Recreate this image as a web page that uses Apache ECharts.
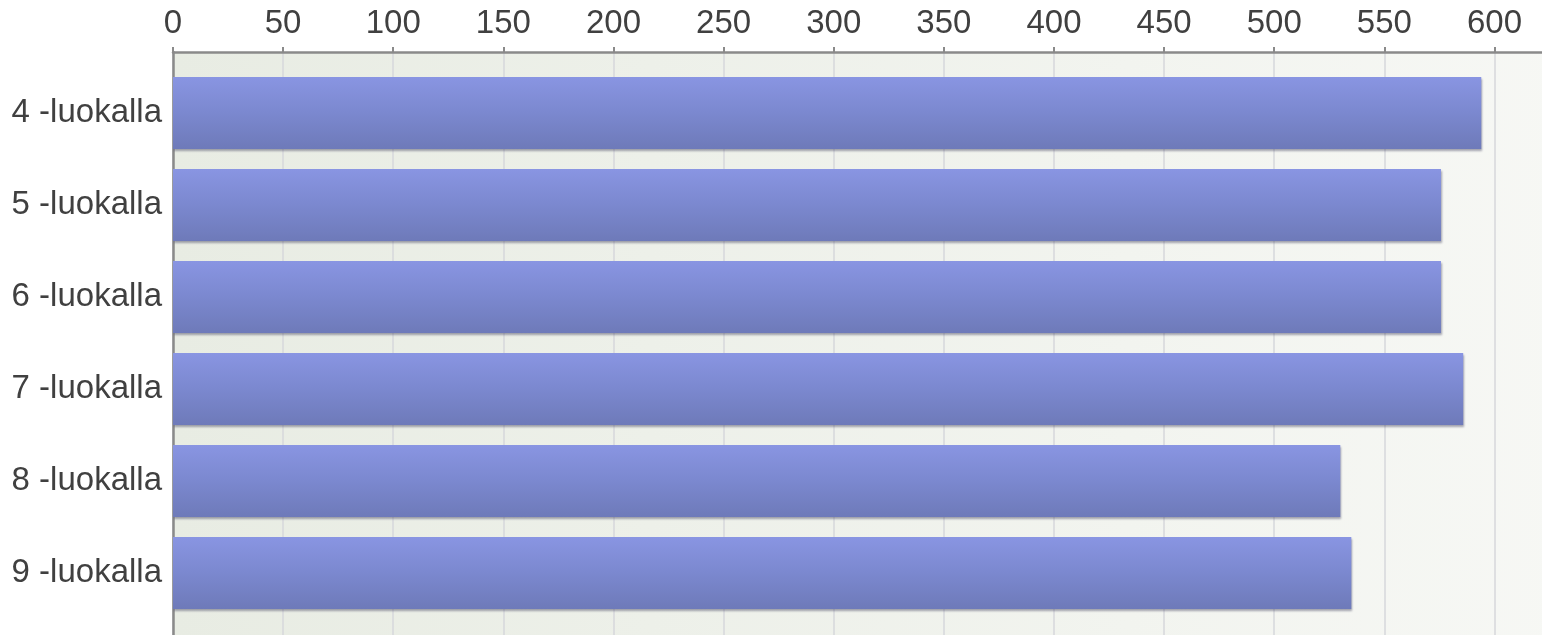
<!DOCTYPE html>
<html>
<head>
<meta charset="utf-8">
<script src="https://cdn.jsdelivr.net/npm/echarts@6/dist/echarts.min.js"></script>
<style>html,body{margin:0;padding:0;background:#fff;}#c{width:1542px;height:635px;}</style>
</head>
<body>
<div id="c"></div>
<script>
const categories = ['4 -luokalla', '5 -luokalla', '6 -luokalla', '7 -luokalla', '8 -luokalla', '9 -luokalla'];
const values = [594, 575.7, 575.7, 585.8, 530, 535];
const xTicks = [0, 50, 100, 150, 200, 250, 300, 350, 400, 450, 500, 550, 600];

const chart = echarts.init(document.getElementById('c'));
const font = '"Liberation Sans", Arial, sans-serif';
chart.setOption({
  animation: false,
  grid: [
    {
      left: 173, right: -62.6, top: 52, bottom: 0,
      outerBoundsMode: 'none', containLabel: false,
      show: true, borderWidth: 0,
      backgroundColor: {
        type: 'linear', x: 0, y: 0, x2: 1, y2: 0,
        colorStops: [{offset: 0, color: '#e8ece3'}, {offset: 1, color: '#f7f8f5'}]
      }
    },
    {left: 173, right: -62.6, top: 67, bottom: 16, outerBoundsMode: 'none', containLabel: false}
  ],
  xAxis: [
    {
      gridIndex: 0, type: 'value', position: 'top', min: 0, max: 650, interval: 50,
      axisLine: {show: true, onZero: false, lineStyle: {color: '#8a8a8a', width: 2.5}},
      axisTick: {show: true, length: 5, lineStyle: {color: '#8a8a8a', width: 2}},
      axisLabel: {color: '#404040', fontSize: 33, fontFamily: font, margin: 12,
        formatter: v => xTicks.includes(v) ? String(v) : ''},
      splitLine: {show: true, lineStyle: {color: '#d6d7db', width: 1.5}}
    },
    {gridIndex: 1, type: 'value', min: 0, max: 650, show: false}
  ],
  yAxis: [
    {
      gridIndex: 0, type: 'value', min: 0, max: 1,
      axisLine: {show: true, onZero: false, lineStyle: {color: '#8a8a8a', width: 2.5}},
      axisTick: {show: false}, axisLabel: {show: false}, splitLine: {show: false}
    },
    {
      gridIndex: 1, type: 'category', inverse: true, data: categories,
      axisLine: {show: false}, axisTick: {show: false}, splitLine: {show: false},
      axisLabel: {color: '#404040', fontSize: 33, fontFamily: font, margin: 11}
    }
  ],
  series: [{
    type: 'bar',
    xAxisIndex: 1, yAxisIndex: 1,
    barWidth: 72,
    data: values,
    itemStyle: {
      color: {
        type: 'linear', x: 0, y: 0, x2: 0, y2: 1,
        colorStops: [
          {offset: 0, color: '#8995e2'},
          {offset: 0.5, color: '#7b88cf'},
          {offset: 1, color: '#6e7ab9'}
        ]
      },
      shadowColor: 'rgba(60,60,90,0.45)', shadowBlur: 2, shadowOffsetX: 1, shadowOffsetY: 2
    }
  }]
});
</script>
</body>
</html>
